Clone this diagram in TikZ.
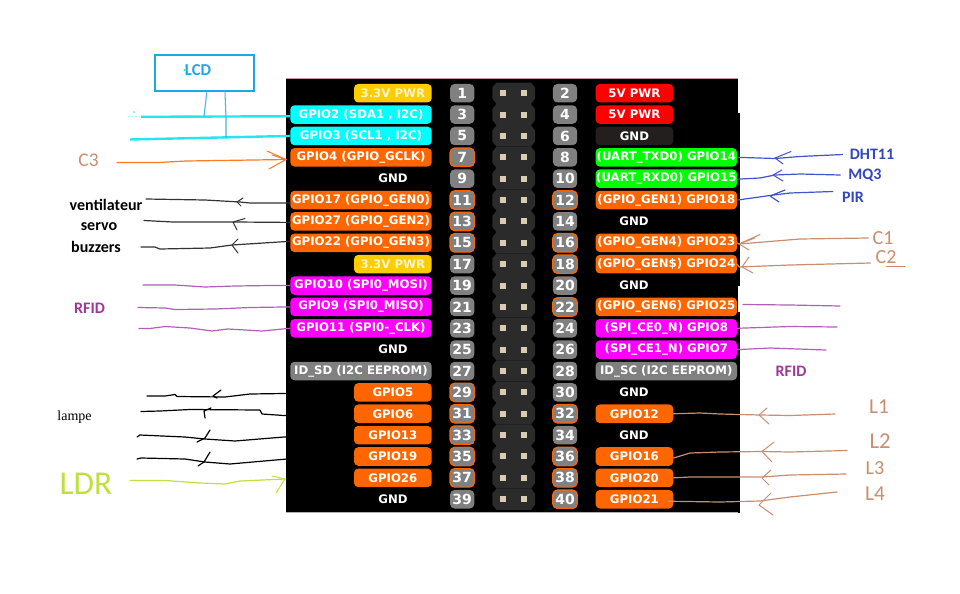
\documentclass[tikz,border=0pt]{standalone}
\usepackage{fontspec}
\usetikzlibrary{calc}
\setmainfont{DejaVu Sans}
\newfontfamily\noteface{Carlito}
\newfontfamily\lampface{Liberation Serif}
\definecolor{brdorange}{HTML}{FF6600}
\definecolor{brdyellow}{HTML}{FFCC00}
\definecolor{brdgray}{HTML}{808080}
\definecolor{brddark}{HTML}{241F1F}
\definecolor{brdcyan}{HTML}{00FFFF}
\definecolor{brdmagenta}{HTML}{FF00FF}
\definecolor{brdgreen}{HTML}{00FF00}
\definecolor{brdred}{HTML}{FF0000}
\definecolor{hdrdark}{HTML}{2B2B2B}
\definecolor{padcol}{HTML}{D8CDB0}
\definecolor{lcdblue}{HTML}{1EA7E8}
\definecolor{wirecyan}{HTML}{22E6F0}
\definecolor{wireorange}{HTML}{FF7A1F}
\definecolor{wireblack}{HTML}{333333}
\definecolor{wirepurple}{HTML}{B060B8}
\definecolor{wireblue}{HTML}{4055C8}
\definecolor{wirebrown}{HTML}{C98E70}
\definecolor{wirelime}{HTML}{C0E040}
\definecolor{notepurple}{HTML}{A0359A}
\definecolor{noteblue}{HTML}{3346C0}
\newcommand\rowy[1]{93.2+21.37*#1}
\tikzset{
  lab/.style={rounded corners=3.2pt,inner sep=0pt,minimum height=13.9pt,text=white,font=\fontsize{8.8}{10}\selectfont\bfseries},
  longl/.style={lab,minimum width=106.1pt},
  shortl/.style={lab,minimum width=58.3pt},
  plain/.style={inner sep=0pt,text=white,font=\fontsize{8.8}{10}\selectfont\bfseries},
  pinbox/.style={fill=brdgray,rounded corners=3.5pt,inner sep=0pt,minimum width=18.3pt,minimum height=13.9pt,text=white,font=\fontsize{10.5}{11}\selectfont\bfseries},
  pinhot/.style={pinbox,draw=brdorange,line width=0.9pt},
  wire/.style={line width=0.9pt,line join=round,line cap=round},
  thinwire/.style={line width=0.75pt,line join=round,line cap=round},
  note/.style={inner sep=0pt,font=\noteface\fontsize{12}{14}\selectfont\bfseries},
  hand/.style={inner sep=0pt,text=wirebrown,font=\noteface},
}
% #1 pin, #2 label style, #3 fill, #4 text
\newcommand\LL[4]{\pgfmathsetmacro\yy{\rowy{(#1-1)/2}}\node[#2,fill=#3,anchor=east] (l#1) at (432,\yy) {#4};}
\newcommand\RL[4]{\pgfmathsetmacro\yy{\rowy{(#1-2)/2}}\node[#2,fill=#3,anchor=west] (r#1) at (595.3,\yy) {#4};}
\newcommand\LG[1]{\pgfmathsetmacro\yy{\rowy{(#1-1)/2}}\node[plain] (l#1) at (393,\yy) {GND};}
\newcommand\RG[1]{\pgfmathsetmacro\yy{\rowy{(#1-2)/2}}\node[plain] (r#1) at (634,\yy) {GND};}
\newcommand\LP[2]{\pgfmathsetmacro\yy{\rowy{(#1-1)/2}}\node[#2] (p#1) at (462.2,\yy) {#1};}
\newcommand\RP[2]{\pgfmathsetmacro\yy{\rowy{(#1-2)/2}}\node[#2] (p#1) at (565,\yy) {#1};}
\begin{document}
\begin{tikzpicture}[x=0.75pt,y=-0.75pt]
\useasboundingbox (0,0) rectangle (960,593);
\fill[white] (0,0) rectangle (960,593);
% board
\fill[black] (286,78.5) rectangle (737.5,512);
\draw[color=gray!70!red!60,line width=0.9pt] (286,78.3) -- (738,78.3);
\draw[color=gray!60,line width=0.9pt] (286,512.5) -- (738,512.5);
\draw[black,line width=0.8pt] (739,113) -- (739,286);
\draw[black,line width=0.8pt] (739,312) -- (739,513);
% header
\foreach \r in {0,...,19}{
  \pgfmathsetmacro\yy{\rowy{\r}}
  \fill[hdrdark] (496.5,\yy-10.7) -- (531,\yy-10.7) -- (535,\yy-5.5) -- (535,\yy+5.5) -- (531,\yy+10.7) -- (496.5,\yy+10.7) -- (492.3,\yy+5.5) -- (492.3,\yy-5.5) -- cycle;
  \fill[padcol] (499.7,\yy-3) rectangle (505.7,\yy+3);
  \fill[padcol] (521.3,\yy-3) rectangle (527.3,\yy+3);
}
% pins
\LP{1}{pinbox}\LP{3}{pinbox}\LP{5}{pinbox}\LP{7}{pinhot}\LP{9}{pinbox}
\LP{11}{pinhot}\LP{13}{pinhot}\LP{15}{pinhot}\LP{17}{pinbox}\LP{19}{pinbox}
\LP{21}{pinbox}\LP{23}{pinbox}\LP{25}{pinbox}\LP{27}{pinbox}\LP{29}{pinhot}
\LP{31}{pinhot}\LP{33}{pinhot}\LP{35}{pinhot}\LP{37}{pinhot}\LP{39}{pinbox}
\RP{2}{pinbox}\RP{4}{pinbox}\RP{6}{pinbox}\RP{8}{pinbox}\RP{10}{pinbox}
\RP{12}{pinhot}\RP{14}{pinbox}\RP{16}{pinhot}\RP{18}{pinhot}\RP{20}{pinbox}
\RP{22}{pinhot}\RP{24}{pinbox}\RP{26}{pinbox}\RP{28}{pinbox}\RP{30}{pinbox}
\RP{32}{pinhot}\RP{34}{pinbox}\RP{36}{pinhot}\RP{38}{pinhot}\RP{40}{pinhot}
% left labels
\LL{1}{shortl}{brdyellow}{\textcolor[HTML]{FFF5D0}{3.3V PWR}}
\LL{3}{longl}{brdcyan}{GPIO2 (SDA1 , I2C)}
\LL{5}{longl}{brdcyan}{GPIO3 (SCL1 , I2C)}
\LL{7}{longl}{brdorange}{GPIO4 (GPIO\_GCLK)}
\LG{9}
\LL{11}{longl}{brdorange}{GPIO17 (GPIO\_GEN0)}
\LL{13}{longl}{brdorange}{GPIO27 (GPIO\_GEN2)}
\LL{15}{longl}{brdorange}{GPIO22 (GPIO\_GEN3)}
\LL{17}{shortl}{brdyellow}{\textcolor[HTML]{FFF5D0}{3.3V PWR}}
\LL{19}{longl}{brdmagenta}{GPIO10 (SPI0\_MOSI)}
\LL{21}{longl}{brdmagenta}{GPIO9 (SPI0\_MISO)}
\LL{23}{longl}{brdmagenta}{GPIO11 (SPI0-\_CLK)}
\LG{25}
\LL{27}{longl}{brdgray}{ID\_SD (I2C EEPROM)}
\LL{29}{shortl}{brdorange}{GPIO5}
\LL{31}{shortl}{brdorange}{GPIO6}
\LL{33}{shortl}{brdorange}{GPIO13}
\LL{35}{shortl}{brdorange}{GPIO19}
\LL{37}{shortl}{brdorange}{GPIO26}
\LG{39}
% right labels
\RL{2}{shortl}{brdred}{5V PWR}
\RL{4}{shortl}{brdred}{5V PWR}
\RL{6}{shortl}{brddark}{GND}
\RL{8}{longl}{brdgreen}{(UART\_TXD0) GPIO14}
\RL{10}{longl}{brdgreen}{(UART\_RXD0) GPIO15}
\RL{12}{longl}{brdorange}{(GPIO\_GEN1) GPIO18}
\RG{14}
\RL{16}{longl}{brdorange}{(GPIO\_GEN4) GPIO23}
\RL{18}{longl}{brdorange}{(GPIO\_GEN\$) GPIO24}
\RG{20}
\RL{22}{longl}{brdorange}{(GPIO\_GEN6) GPIO25}
\RL{24}{longl}{brdmagenta}{(SPI\_CE0\_N) GPIO8}
\RL{26}{longl}{brdmagenta}{(SPI\_CE1\_N) GPIO7}
\RL{28}{longl}{brdgray}{ID\_SC (I2C EEPROM)}
\RG{30}
\RL{32}{shortl}{brdorange}{GPIO12}
\RG{34}
\RL{36}{shortl}{brdorange}{GPIO16}
\RL{38}{shortl}{brdorange}{GPIO20}
\RL{40}{shortl}{brdorange}{GPIO21}
% LCD
\node[draw=lcdblue,line width=1.5pt,minimum width=74pt,minimum height=27.5pt,inner sep=0pt] (lcd) at (204.3,73) {};
\node[note,text=lcdblue,font=\noteface\fontsize{12.5}{14}\selectfont\bfseries] (lcdt) at (198,70.5) {LCD};
\fill[wirecyan] (184.5,70) circle (1.1);
% cyan bus
\coordinate (busa) at (141,116.8);
\coordinate (busb) at (130,139.5);
\draw[wirecyan,line width=1.8pt] (busa) -- ([shift={(0,1.7)}]l3.west);
\draw[wirecyan,line width=1.8pt] (busb) -- (l5.west);
\draw[wirecyan!50,line width=0.8pt,dotted] (128,116.5) -- (140,116.5);
\draw[wirecyan!50,line width=0.8pt] (134,111) -- (134,113);
\coordinate (taba) at (204,116.5);
\coordinate (tabb) at (226,137.8);
\draw[color=lcdblue!85,line width=0.8pt] ([shift={(2.5,0)}]lcd.south) -- (taba);
\draw[color=lcdblue!85,line width=0.8pt] ([shift={(20.7,0)}]lcd.south) -- (226,118) -- (tabb);
% C3
\node[hand,text=wirebrown,font=\noteface\fontsize{14.5}{16}\selectfont] (c3) at (88.5,160) {C3};
\coordinate (c3s) at (117,162.5);
\coordinate (c3tip) at (286,159.5);
\draw[wireorange,wire] (c3s) -- (158,162.5) -- (186,161) -- (c3tip);
\draw[wireorange,thinwire] (267,151) -- (c3tip) -- (269,169);
\draw[wireorange,thinwire] (272,155) -- (c3tip);
% left black notes
\node[note,text=black] (vent) at (106,205) {ventilateur};
\node[note,text=black] (servo) at (99,226.5) {servo};
\node[note,text=black] (buzz) at (96,247) {buzzers};
\coordinate (ve) at (146,199);\coordinate (se) at (144,220.5);\coordinate (be) at (141,247);
\draw[wireblack,wire] (ve) -- (205,200) -- (240,202) -- (250,203) -- ([shift={(0,3)}]l11.west);
\draw[wireblack,thinwire] (243,198) -- (237,202) -- (241,206);
\draw[wireblack,wire] (se) -- (173,222) -- (235,222) -- ([shift={(0,1)}]l13.west);
\draw[wireblack,thinwire] (245,218.5) -- (233,222) -- (237,230);
\draw[wireblack,wire] (be) -- (155,247) -- (160,249) -- (210,248) -- (232,245) -- ([shift={(0,-1.5)}]l15.west);
\draw[wireblack,thinwire] (238,239) -- (232,245) -- (238,253);
% left purple
\node[note,text=notepurple] (rfidl) at (89.5,308) {RFID};
\coordinate (pa) at (143,285);\coordinate (pb) at (138,307.5);\coordinate (pc) at (139,328.5);
\draw[wirepurple,wire] (pa) -- (175,285) -- (205,287) -- (235,286) -- (270,285.5) -- (l19.west);
\draw[wirepurple,wire] (pb) -- (165,308) -- (175,309.5) -- (215,309) -- (250,307.5) -- (l21.west);
\draw[wirepurple,wire] (pc) -- (150,328.5) -- (165,326.5) -- (190,328) -- (212,331) -- (228,329) -- (262,331) -- (l23.west);
% lampe
\node[inner sep=0pt,text=black,font=\lampface\fontsize{10.5}{12}\selectfont] (lampe) at (74.5,417) {lampe};
\coordinate (la) at (147,396);\coordinate (lb) at (141,411.5);\coordinate (lc) at (137,437);\coordinate (ld) at (137,459);
\draw[black,wire] (la) -- (165,396) -- (175,394.5) -- (177,396.5) -- (225,397) -- (250,394) -- (284,393.5) -- (l29.west);
\draw[black,wire] (221,390) -- (213,396) -- (217,398);
\draw[black,wire] (lb) -- (160,411) -- (190,409.5) -- (260,410) -- (262,414) -- (284,415.5) -- (l31.west);
\draw[black,wire] (211,408) -- (204,411) -- (205,418);
\draw[black,wire] (lc) -- (140,435) -- (185,437) -- (205,439) -- (235,441) -- (284,437) -- (l33.west);
\draw[black,wire] (210,430) -- (205,438) -- (197,442);
\draw[black,wire] (ld) -- (141,458) -- (185,459) -- (205,462) -- (230,464) -- (287,459) -- (l35.west);
\draw[black,wire] (210,452) -- (204,462) -- (198,466);
% LDR
\node[hand,text=wirelime,font=\noteface\fontsize{25}{27}\selectfont] (ldr) at (86,484) {LDR};
\coordinate (lds) at (130,480.5);
\coordinate (ldtip) at (285,479);
\draw[wirelime,wire] (lds) -- (165,480.5) -- (200,483) -- (225,484) -- (240,481) -- (ldtip);
\draw[wirelime,thinwire] (272,476) -- (ldtip) -- (276,493);
% right blue
\node[note,text=noteblue] (dht) at (872,154.5) {DHT11};
\node[note,text=noteblue] (mq) at (865,175) {MQ3};
\node[note,text=noteblue] (pir) at (853,197.5) {PIR};
\draw[wireblue,wire] (r8.east) -- (775,158.5) -- (800,156.5) -- ([shift={(-7,0)}]dht.west);
\draw[wireblue,thinwire] (791,151.5) -- (775,158) -- (783,164);
\draw[wireblue,wire] ([shift={(0,0.5)}]r10.east) -- (760,178) -- (775,175) -- (800,174) -- ([shift={(-8,0)}]mq.west);
\draw[wireblue,thinwire] (782,170) -- (773,175) -- (783,181);
\draw[wireblue,wire] (r12.east) -- (770,195.5) -- (790,193) -- ([shift={(-9,-6)}]pir.west);
\draw[wireblue,wire] (785,190) -- (770,196) -- (779,202);
% right brown top
\node[hand,font=\noteface\fontsize{15}{16}\selectfont] (c1) at (883,238) {C1};
\node[hand,font=\noteface\fontsize{15}{16}\selectfont] (c2) at (886,257) {C2};
\coordinate (c1tip) at (739,244);\coordinate (c2tip) at (739,267);
\draw[wirebrown,wire] ([shift={(-4,0)}]c1.west) -- (800,239) -- (c1tip) -- (r16.east);
\draw[wirebrown,thinwire] (760,234.5) -- (c1tip) -- (749,250);
\draw[wirebrown,thinwire] (755,238) -- (c1tip);
\draw[wirebrown,wire] ([shift={(-5,6)}]c2.west) -- (790,265) -- (c2tip) -- (r18.east);
\draw[wirebrown,thinwire] (749,257) -- (742,267) -- (753,273);
\draw[wirebrown,thinwire] (886,266) -- (905,266);
% right purple
\node[note,text=notepurple] (rfidr) at (791,371.5) {RFID};
\coordinate (qa) at (840,306);\coordinate (qb) at (837,327);\coordinate (qc) at (826,350);
\draw[wirepurple,wire] (743,304.5) -- (790,305) -- (qa);
\draw[wirepurple,wire] (r24.east) -- (790,326.5) -- (qb);
\draw[wirepurple,wire] (r26.east) -- (770,348) -- (qc);
% L wires
\node[hand,font=\noteface\fontsize{16}{18}\selectfont] (L1) at (879,407) {L1};
\node[hand,font=\noteface\fontsize{17}{18}\selectfont] (L2) at (880,441) {L2};
\node[hand,font=\noteface\fontsize{15}{18}\selectfont] (L3) at (875,468) {L3};
\node[hand,font=\noteface\fontsize{16}{18}\selectfont] (L4) at (875,494) {L4};
\draw[wirebrown,wire] (r32.east) -- (700,413) -- (720,414) -- (760,415) -- (790,415.5) -- (835,414);
\draw[wirebrown,thinwire] (767,408) -- (759,415) -- (769,424);
\draw[wirebrown,wire] ([shift={(0,1.5)}]r36.east) -- (690,453) -- (720,452) -- (762,451.5) -- (790,452) -- (847,450.5);
\draw[wirebrown,thinwire] (774,442) -- (762,451.5) -- (772,462);
\draw[wirebrown,wire] (r38.east) -- (690,477) -- (720,477) -- (762,477) -- (790,475) -- (846,474);
\draw[wirebrown,thinwire] (771,470) -- (762,478) -- (769,485);
\draw[wirebrown,wire] ([shift={(-5,2)}]r40.east) -- (720,502) -- (760,501) -- (790,497) -- (837,492);
\draw[wirebrown,thinwire] (771,493) -- (759,505) -- (773,515);
\end{tikzpicture}
\end{document}
